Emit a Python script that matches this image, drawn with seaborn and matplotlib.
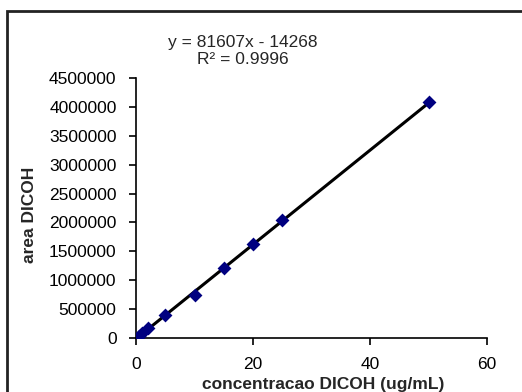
import matplotlib
matplotlib.use("Agg")
import matplotlib.pyplot as plt
import matplotlib.patches as mpatches
import matplotlib.ticker as mticker
import numpy as np
import pandas as pd
import seaborn as sns

# Calibration standards: concentration (ug/mL) and peak area
concentration = [0.5, 1, 2, 5, 10, 15, 20, 25, 50]
area = [40000, 85000, 165000, 400000, 750000, 1210000, 1630000, 2050000, 4080000]

# Linear trendline coefficients as printed on the chart
slope = 81607
intercept = -14268
r_squared = 0.9996

x_ticks = [0, 20, 40, 60]
y_ticks = [0, 500000, 1000000, 1500000, 2000000, 2500000, 3000000, 3500000, 4000000, 4500000]

sns.set_style("ticks")
plt.rcParams["font.family"] = ["Liberation Sans", "DejaVu Sans"]

df = pd.DataFrame({"conc": concentration, "area": area})
xs = np.array([min(concentration), max(concentration)])
trend = pd.DataFrame({"conc": xs, "area": slope * xs + intercept})

fig = plt.figure(figsize=(5.22, 3.92), dpi=100)
ax = fig.add_axes([136 / 522, 1 - 338 / 392, (487 - 136) / 522, (338 - 78) / 392])

sns.lineplot(data=trend, x="conc", y="area", ax=ax, color="black", linewidth=2.2, zorder=2)
sns.scatterplot(data=df, x="conc", y="area", ax=ax, marker="D", color="#000080",
                edgecolor="#000080", s=50, zorder=3, linewidth=0)

ax.set_xlim(0, 60)
ax.set_ylim(0, 4500000)
ax.set_xticks(x_ticks)
ax.set_yticks(y_ticks)
ax.yaxis.set_major_formatter(mticker.FuncFormatter(lambda v, p: f"{int(v)}"))
ax.xaxis.set_major_formatter(mticker.FuncFormatter(lambda v, p: f"{int(v)}"))
ax.set_xlabel("")
ax.set_ylabel("")

for side in ("top", "right"):
    ax.spines[side].set_visible(False)
for side in ("left", "bottom"):
    ax.spines[side].set_linewidth(1.2)
    ax.spines[side].set_color("black")
ax.tick_params(axis="both", direction="out", length=5, width=1.2, color="black",
               labelsize=12.5, labelcolor="black", pad=9)

fig.text(30 / 522, 1 - 215 / 392, "area DICOH", rotation=90, ha="center", va="center",
         fontsize=12.5, fontweight="bold")
fig.text(323 / 522, 1 - 384 / 392, "concentracao DICOH (ug/mL)", ha="center", va="center",
         fontsize=12.5, fontweight="bold")

fig.text(243 / 522, 1 - 42 / 392, f"y = {slope}x - {abs(intercept)}", ha="center", va="center",
         fontsize=12.5)
fig.text(243 / 522, 1 - 60 / 392, f"R² = {r_squared}", ha="center", va="center", fontsize=12.5)

# Chart-area border
frame = mpatches.Rectangle((6.5 / 522, -0.05), 1.2, 1 - 10.5 / 392 + 0.05,
                           transform=fig.transFigure, fill=False,
                           edgecolor="#222222", linewidth=2, clip_on=False)
fig.patches.append(frame)

fig.savefig("out.png", dpi=100)
